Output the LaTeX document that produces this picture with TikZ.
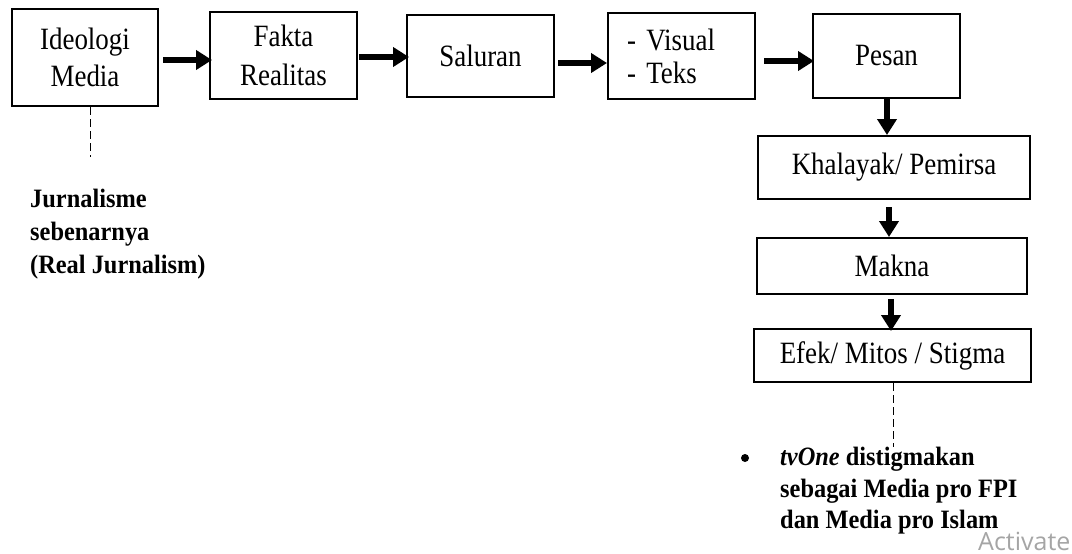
\documentclass[tikz,border=0pt]{standalone}
\usepackage{fontspec}
\setmainfont{Liberation Serif}
\newfontfamily\boxf[FakeStretch=0.87]{Liberation Serif}
\newfontfamily\notef[FakeStretch=0.92]{Liberation Serif}
\newfontfamily\actf{Open Sans}
\usetikzlibrary{arrows.meta}
\definecolor{actgray}{RGB}{165,165,165}
\tikzset{
  boxnode/.style={draw, line width=2pt, inner sep=0pt, align=center,
    font=\boxf\fontsize{31}{37}\selectfont},
  arr/.style={line width=6.5pt, -{Triangle[length=16pt,width=19pt]}},
  dashline/.style={line width=1pt, dash pattern=on 8pt off 4pt},
  notenode/.style={inner sep=0pt, align=left, anchor=north west,
    font=\notef\bfseries\fontsize{26.5}{33}\selectfont},
}
\begin{document}
\begin{tikzpicture}[x=1pt,y=-1pt]
\useasboundingbox (0,0) rectangle (1072,554);
% top row
\node[boxnode, minimum width=146pt, minimum height=97pt] (b1) at (85,57.5) {Ideologi\\Media};
\node[boxnode, minimum width=147pt, minimum height=87pt,
  font=\boxf\fontsize{31}{39}\selectfont] (b2) at (283.5,55.5) {Fakta\\Realitas};
\node[boxnode, minimum width=147pt, minimum height=82pt] (b3) at (480.5,56) {Saluran};
\node[boxnode, minimum width=147pt, minimum height=86pt, text width=109pt, align=left,
  font=\boxf\fontsize{31}{33}\selectfont] (b4) at (681.5,56) {- Visual\\- Teks};
\node[boxnode, minimum width=147pt, minimum height=84pt] (b5) at (886.5,56) {Pesan};
% right column
\node[boxnode, minimum width=272pt, minimum height=63pt] (b6) at (894,167.5) {Khalayak/ Pemirsa};
\node[boxnode, minimum width=270pt, minimum height=56pt] (b7) at (892,266) {Makna};
\node[boxnode, minimum width=277pt, minimum height=53pt] (b8) at (892.5,355.5) {Efek/ Mitos / Stigma};
% arrows
\draw[arr] ([xshift=4pt,yshift=-2.5pt]b1.east) -- ([xshift=3pt,yshift=-4.5pt]b2.west);
\draw[arr] ([xshift=1pt,yshift=-1.5pt]b2.east) -- ([xshift=3pt,yshift=-1pt]b3.west);
\draw[arr] ([xshift=3pt,yshift=-7pt]b3.east) -- ([yshift=-7pt]b4.west);
\draw[arr] ([xshift=8pt,yshift=-5pt]b4.east) -- ([xshift=2pt,yshift=-5pt]b5.west);
\draw[arr] ([xshift=0.5pt]b5.south) -- ([xshift=-7pt]b6.north);
\draw[arr] ([xshift=-5pt,yshift=-7pt]b6.south) -- ([xshift=-3pt]b7.north);
\draw[arr] ([xshift=-1pt,yshift=-4pt]b7.south) -- ([xshift=-1.5pt,yshift=-3pt]b8.north);
% notes
\coordinate (lend) at (90,157);
\coordinate (rend) at (893,447);
\draw[dashline] ([xshift=5pt]b1.south) -- (lend);
\draw[dashline] ([xshift=0.5pt]b8.south) -- (rend);
\node[notenode] (jur) at (30,189) {Jurnalisme\\sebenarnya\\(Real Jurnalism)};
\node[circle, fill, inner sep=0pt, minimum size=8pt] (bul) at (745,458) {};
\node[notenode, font=\notef\bfseries\fontsize{26.5}{31.5}\selectfont] (stig) at (780,447)
  {\textit{tvOne} distigmakan\\sebagai Media pro FPI\\dan Media pro Islam};
\node[anchor=base west, inner sep=0pt, font=\actf\fontsize{25}{30}\selectfont, text=actgray] (act) at (978,550) {Activate};
\end{tikzpicture}
\end{document}
